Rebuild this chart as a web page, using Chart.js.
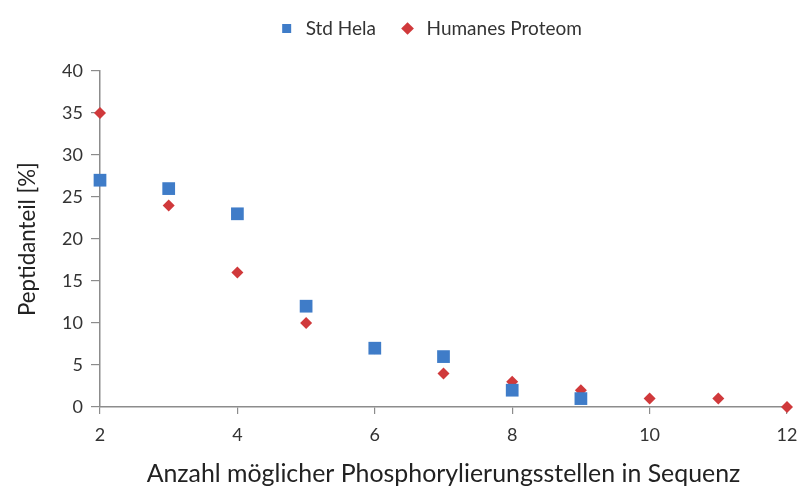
<!DOCTYPE html>
<html>
<head>
<meta charset="utf-8">
<script src="https://cdn.jsdelivr.net/npm/chart.js@4"></script>
<style>
  html, body { margin: 0; padding: 0; background: #fff; }
  #wrap { width: 798px; height: 489px; }
</style>
</head>
<body>
<div id="wrap"><canvas id="c" width="798" height="489"></canvas></div>
<script>
// Anzahl möglicher Phosphorylierungsstellen (x) und Peptidanteil in % (y)
const helaSites = [2, 3, 4, 5, 6, 7, 8, 9];
const helaShare = [27, 26, 23, 12, 7, 6, 2, 1];
const proteomSites = [2, 3, 4, 5, 6, 7, 8, 9, 10, 11, 12];
const proteomShare = [35, 24, 16, 10, 7, 4, 3, 2, 1, 1, 0];
const seriesNames = ['Std Hela', 'Humanes Proteom'];
const xTicks = [2, 4, 6, 8, 10, 12];
const yTicks = [0, 5, 10, 15, 20, 25, 30, 35, 40];
const xTitle = 'Anzahl möglicher Phosphorylierungsstellen in Sequenz';
const yTitle = 'Peptidanteil [%]';

const FONT = 'Lato, "Open Sans", sans-serif';
const BLUE = '#3f7cc8';
const RED = '#d0393b';
const AXIS = '#8c8c8c';

const toPoints = (xs, ys) => xs.map((x, i) => ({ x, y: ys[i] }));

// font size that makes a title run a given length in pixels
function fitSize(text, length) {
  const ctx = document.createElement('canvas').getContext('2d');
  ctx.font = '100px ' + FONT;
  return 100 * length / ctx.measureText(text).width;
}

// centre the legend over the plot area and lift it towards the top edge
const legendShift = {
  id: 'legendShift',
  afterLayout(chart) {
    const lg = chart.legend;
    if (!lg) return;
    const ca = chart.chartArea;
    const dx = (ca.left + ca.right) / 2 - (lg.left + lg.right) / 2 - 14;
    const dy = -23;
    lg.left += dx;
    lg.right += dx;
    lg.top += dy;
    lg.bottom += dy;
  }
};

new Chart(document.getElementById('c'), {
  type: 'scatter',
  data: {
    datasets: [
      {
        label: seriesNames[0],
        data: toPoints(helaSites, helaShare),
        pointStyle: 'rect',
        pointRadius: 9,
        pointHoverRadius: 9,
        backgroundColor: BLUE,
        borderColor: BLUE,
        borderWidth: 0,
        clip: false
      },
      {
        label: seriesNames[1],
        data: toPoints(proteomSites, proteomShare),
        pointStyle: 'rectRot',
        pointRadius: 6,
        pointHoverRadius: 6,
        backgroundColor: RED,
        borderColor: RED,
        borderWidth: 0,
        clip: false
      }
    ]
  },
  options: {
    responsive: false,
    animation: false,
    layout: { padding: { top: 20, right: 11, left: 0, bottom: 0 } },
    plugins: {
      tooltip: { enabled: false },
      legend: {
        position: 'top',
        labels: {
          usePointStyle: true,
          boxHeight: 9,
          padding: 22,
          color: '#333',
          font: { family: FONT, size: 19 }
        }
      }
    },
    scales: {
      x: {
        type: 'linear',
        min: 2,
        max: 12,
        afterBuildTicks(scale) { scale.ticks = xTicks.map(v => ({ value: v })); },
        grid: { drawOnChartArea: false, drawTicks: true, tickLength: 7, color: AXIS, lineWidth: 1.2 },
        border: { color: AXIS, width: 1.5 },
        ticks: { color: '#333', font: { family: FONT, size: 18 }, padding: 10, maxRotation: 0 },
        title: {
          display: true,
          text: xTitle,
          color: '#222',
          font: { family: FONT, size: fitSize(xTitle, 594) },
          padding: { top: 4, bottom: 0 }
        },
        afterFit(scale) {
          scale.height = 82;
          scale.paddingLeft = 0;
          scale.paddingRight = 0;
        }
      },
      y: {
        min: 0,
        max: 40,
        afterBuildTicks(scale) { scale.ticks = yTicks.map(v => ({ value: v })); },
        grid: { drawOnChartArea: false, drawTicks: true, tickLength: 9, color: AXIS, lineWidth: 1.2 },
        border: { color: AXIS, width: 1.5 },
        ticks: { color: '#333', font: { family: FONT, size: 18 }, padding: 8 },
        title: {
          display: true,
          text: yTitle,
          color: '#222',
          font: { family: FONT, size: fitSize(yTitle, 154) },
          padding: { top: 14, bottom: 0 }
        },
        afterFit(scale) { scale.width = 100; }
      }
    }
  },
  plugins: [legendShift]
});
</script>
</body>
</html>
